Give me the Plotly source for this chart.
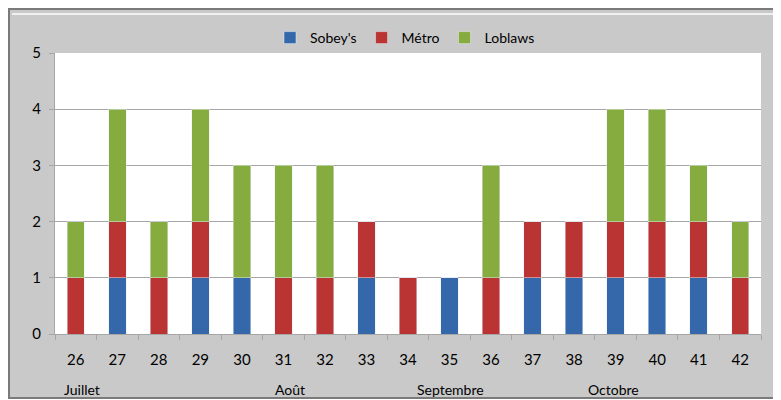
import plotly.graph_objects as go

weeks = ["26", "27", "28", "29", "30", "31", "32", "33", "34", "35", "36", "37", "38", "39", "40", "41", "42"]
sobeys = [0, 1, 0, 1, 1, 0, 0, 1, 0, 1, 0, 1, 1, 1, 1, 1, 0]
metro = [1, 1, 1, 1, 0, 1, 1, 1, 1, 0, 1, 1, 1, 1, 1, 1, 1]
loblaws = [1, 2, 1, 2, 2, 2, 2, 0, 0, 0, 2, 0, 0, 2, 2, 1, 1]
months = ["Juillet", "Août", "Septembre", "Octobre"]
month_px = [74, 282, 442, 605]

FONT = "Lato, 'Noto Sans', sans-serif"

fig = go.Figure()
fig.add_trace(go.Bar(x=weeks, y=sobeys, name="Sobey's", marker=dict(color="#3468aa")))
fig.add_trace(go.Bar(x=weeks, y=metro, name="Métro", marker=dict(color="#bb3434")))
fig.add_trace(go.Bar(x=weeks, y=loblaws, name="Loblaws", marker=dict(color="#86ab3e")))

W, H = 773, 392
L, T = 47, 45
R = W - 753
B = H - 326
pw, ph = W - L - R, H - T - B

def px(x):
    return (x - L) / pw

def py(y):
    return (H - B - y) / ph

shapes = [
    dict(type="rect", xref="paper", yref="paper", x0=px(1), x1=px(771), y0=py(390), y1=py(1),
         fillcolor="#c9c9c9", line=dict(color="#7a7a7a", width=2), layer="below"),
    dict(type="line", xref="paper", yref="paper", x0=px(4), x1=px(768), y0=py(6), y1=py(6),
         line=dict(color="#f0f0f0", width=2), layer="below"),
    dict(type="rect", xref="paper", yref="paper", x0=0, x1=1, y0=0, y1=1,
         fillcolor="white", line=dict(width=0), layer="below"),
]

annotations = [
    dict(text=m, x=px(p), y=py(381), xref="paper", yref="paper", showarrow=False,
         font=dict(family=FONT, size=14, color="black"), xanchor="center", yanchor="middle")
    for m, p in zip(months, month_px)
]

fig.update_layout(
    width=W, height=H,
    margin=dict(l=L, r=R, t=T, b=B, autoexpand=False),
    barmode="stack",
    bargap=0.58,
    paper_bgcolor="white",
    plot_bgcolor="rgba(0,0,0,0)",
    font=dict(family=FONT, size=14, color="black"),
    shapes=shapes,
    annotations=annotations,
    legend=dict(orientation="h", x=px(397), y=py(30), xanchor="center", yanchor="middle",
                font=dict(family=FONT, size=14, color="black"), bgcolor="rgba(0,0,0,0)",
                itemwidth=30, traceorder="normal"),
    xaxis=dict(type="category", showgrid=False, showline=True, linecolor="#a6a6a6", linewidth=1,
               ticks="outside", tickson="boundaries", ticklen=5, tickcolor="#a6a6a6",
               tickfont=dict(size=15), ticklabelstandoff=12, automargin=False),
    yaxis=dict(range=[0, 5], dtick=1, showgrid=True, gridcolor="#a6a6a6", gridwidth=1,
               showline=True, linecolor="#a6a6a6", linewidth=1, ticks="outside", ticklen=5,
               tickcolor="#a6a6a6", tickfont=dict(size=15), zeroline=False,
               ticklabelstandoff=5, automargin=False),
)

fig.write_html("out.html")
